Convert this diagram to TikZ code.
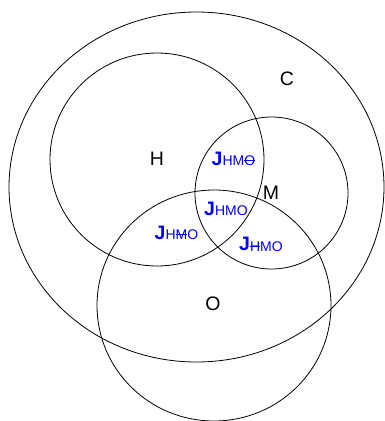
\documentclass[tikz,border=0pt]{standalone}
\usepackage{fontspec}
\setmainfont{Liberation Sans}
\definecolor{lblblue}{RGB}{0,0,255}
\newcommand\mystrike[1]{\setbox0\hbox{#1}\rlap{\rule[0.34em]{\wd0}{0.07em}}\box0}
\newcommand\jlab[3]{\textbf{\fontsize{19.5}{19.5}\selectfont J}\raisebox{-0.5pt}{\fontsize{14}{14}\selectfont #1#2#3}}
\begin{document}
\begin{tikzpicture}[x=1pt,y=-1pt,
  setline/.style={draw=black,line width=0.8pt},
  setname/.style={font=\fontsize{19.5}{19.5}\selectfont,inner sep=0pt,anchor=center},
  jname/.style={text=lblblue,inner sep=0pt,anchor=center}]
\useasboundingbox (0,0) rectangle (385,421);
\draw[setline] (196.5,187) ellipse [x radius=187.5, y radius=175];
\draw[setline] (157,159.5) ellipse [x radius=107, y radius=106.5];
\draw[setline] (271.5,193) ellipse [x radius=76.5, y radius=76];
\draw[setline] (214,305.5) ellipse [x radius=117, y radius=115.5];
\node[setname] (C) at (287,79) {C};
\node[setname] (H) at (157,159) {H};
\node[setname] (M) at (271,193) {M};
\node[setname] (O) at (213,304) {O};
\node[jname] (jhm) at (233.5,159) {\jlab{H}{M}{\mystrike{O}}};
\node[jname] (jhmo) at (226,209) {\jlab{H}{M}{O}};
\node[jname] (jho) at (176.5,233) {\jlab{H}{\mystrike{M}}{O}};
\node[jname] (jmo) at (261,244.5) {\jlab{\mystrike{H}}{M}{O}};
\end{tikzpicture}
\end{document}
